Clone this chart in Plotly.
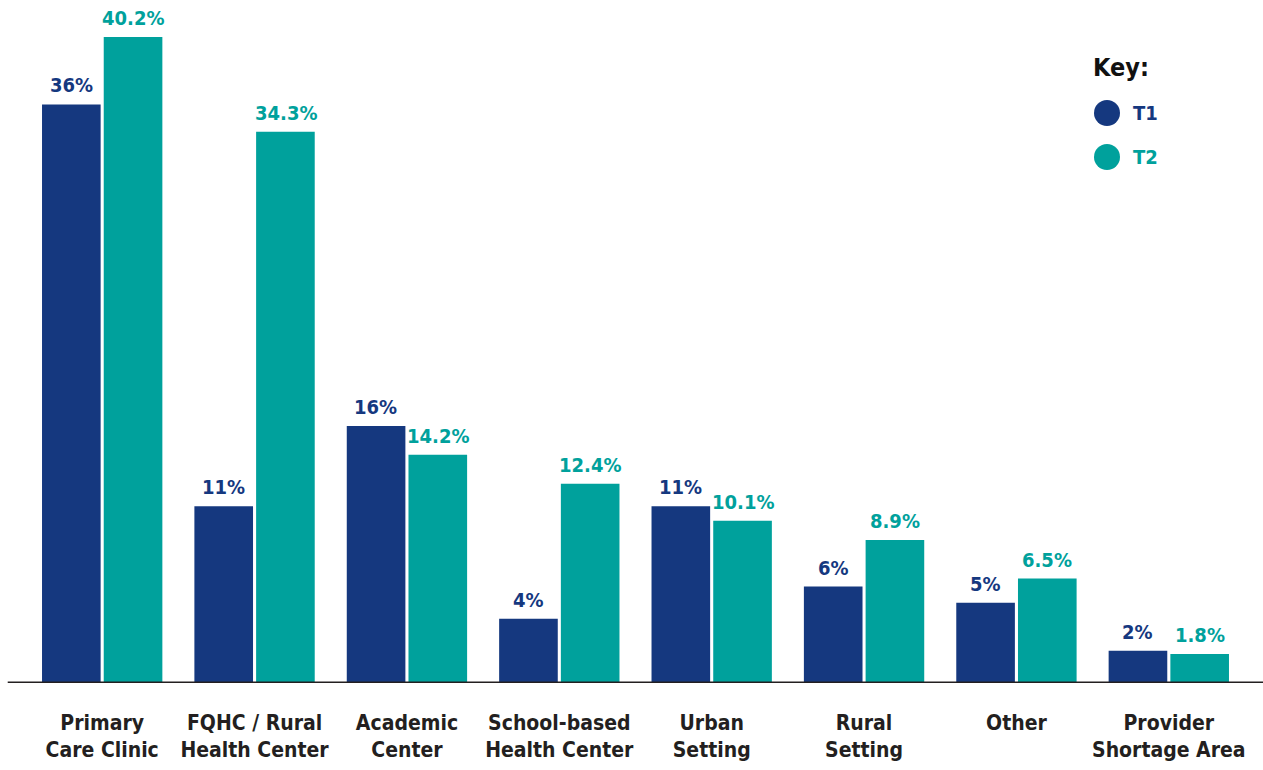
import plotly.graph_objects as go

categories = [
    "Primary<br>Care Clinic",
    "FQHC / Rural<br>Health Center",
    "Academic<br>Center",
    "School-based<br>Health Center",
    "Urban<br>Setting",
    "Rural<br>Setting",
    "Other",
    "Provider<br>Shortage Area",
]
t1_values = [36, 11, 16, 4, 11, 6, 5, 2]
t2_values = [40.2, 34.3, 14.2, 12.4, 10.1, 8.9, 6.5, 1.8]
t1_labels = ["36%", "11%", "16%", "4%", "11%", "6%", "5%", "2%"]
t2_labels = ["40.2%", "34.3%", "14.2%", "12.4%", "10.1%", "8.9%", "6.5%", "1.8%"]

NAVY = "#15387f"
TEAL = "#00a19c"
INK = "#231f20"
FONT = "Liberation Sans Narrow, DejaVu Sans Condensed, Arial Narrow, sans-serif"

fig = go.Figure()
fig.add_trace(go.Bar(name="T1", x=categories, y=t1_values, marker=dict(color=NAVY, line=dict(width=0))))
fig.add_trace(go.Bar(name="T2", x=categories, y=t2_values, marker=dict(color=TEAL, line=dict(width=0))))

# value labels above each bar
for cat, v, lab in zip(categories, t1_values, t1_labels):
    fig.add_annotation(x=cat, y=v, text=f"<b>{lab}</b>", showarrow=False, xshift=-31,
                       yanchor="bottom", yshift=5, font=dict(family=FONT, size=20, color=NAVY))
for cat, v, lab in zip(categories, t2_values, t2_labels):
    fig.add_annotation(x=cat, y=v, text=f"<b>{lab}</b>", showarrow=False, xshift=31,
                       yanchor="bottom", yshift=5, font=dict(family=FONT, size=20, color=TEAL))

# baseline across the full width
fig.add_shape(type="line", xref="paper", yref="y", x0=-0.015, x1=1.02, y0=0, y1=0,
              line=dict(color=INK, width=3), layer="above")

# key
fig.add_annotation(xref="paper", yref="paper", x=(1091 - 26) / 1219, y=(683 - 67) / 673,
                   xanchor="left", yanchor="middle",
                   text="<b>Key:</b>", showarrow=False, font=dict(family=FONT, size=25, color="#111111"))
for name, color, ypx in [("T1", NAVY, 113), ("T2", TEAL, 157)]:
    yp = (683 - ypx) / 673
    fig.add_shape(type="circle", xref="paper", yref="paper",
                  x0=(1094 - 26) / 1219, x1=(1120 - 26) / 1219,
                  y0=yp - 13 / 673, y1=yp + 13 / 673,
                  fillcolor=color, line=dict(width=0))
    fig.add_annotation(xref="paper", yref="paper", x=(1131 - 26) / 1219, y=yp, xanchor="left",
                       yanchor="middle", text=f"<b>{name}</b>", showarrow=False,
                       font=dict(family=FONT, size=20, color=color))

fig.update_layout(
    width=1263, height=770,
    margin=dict(l=26, r=18, t=10, b=87),
    barmode="group", bargap=0.19, bargroupgap=0.05,
    plot_bgcolor="white", paper_bgcolor="white",
    showlegend=False,
    font=dict(family=FONT, color=INK),
    xaxis=dict(showgrid=False, showline=False, zeroline=False, ticks="",
               ticklabelstandoff=25, automargin=False,
               tickfont=dict(family=FONT, size=21, color=INK, weight="bold")),
    yaxis=dict(range=[0, 41.88], visible=False, showgrid=False, zeroline=False,
               automargin=False),
)

fig.write_html("out.html")
